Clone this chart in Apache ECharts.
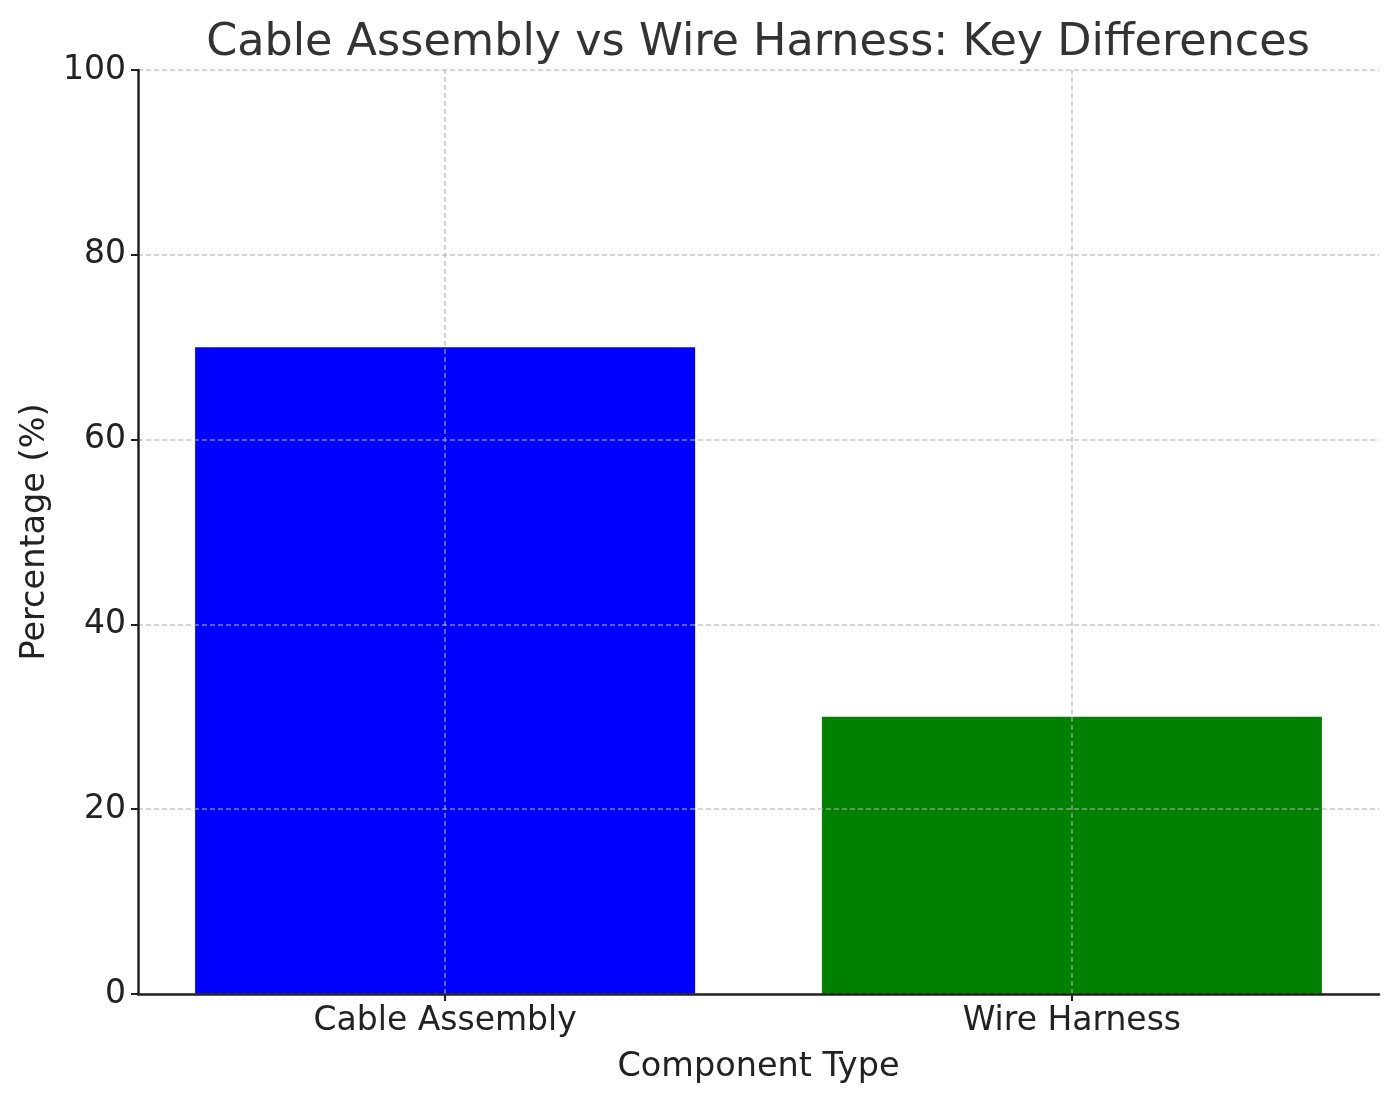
<!DOCTYPE html>
<html>
<head>
<meta charset="utf-8">
<script src="https://cdn.jsdelivr.net/npm/echarts@6/dist/echarts.min.js"></script>
<style>
  html, body { margin: 0; padding: 0; background: #fff; }
  #chart { width: 1397px; height: 1101px; }
</style>
</head>
<body>
<div id="chart"></div>
<script>
// 数据
const categories = ['Cable Assembly', 'Wire Harness']
const percentages = [70, 30]
const barColors = ['#0000ff', '#008000']
const yTicks = [0, 20, 40, 60, 80, 100]

const FONT = 'DejaVu Sans'
const gridColor = 'rgba(176,176,176,0.7)'
const ink = '#222'

const positions = categories.map((c, i) => i)

const option = {
    animation: false,
    backgroundColor: '#fff',
    title: {
        text: 'Cable Assembly vs Wire Harness: Key Differences',
        left: 753,
        textAlign: 'center',
        top: 16,
        textStyle: { fontFamily: FONT, fontSize: 44.5, fontWeight: 'normal', color: '#333' }
    },
    grid: { left: 138, right: 18, top: 70, bottom: 107 },
    xAxis: {
        type: 'value',
        min: -0.49,
        max: 1.49,
        z: 5,
        name: 'Component Type',
        nameLocation: 'middle',
        nameGap: 56,
        nameTextStyle: { fontFamily: FONT, fontSize: 33.5, color: ink },
        axisLine: { show: true, onZero: false, lineStyle: { color: ink, width: 2.5 } },
        axisTick: { show: true, customValues: positions, length: 7, lineStyle: { color: ink, width: 2 } },
        axisLabel: {
            customValues: positions,
            formatter: v => categories[Math.round(v)] || '',
            fontFamily: FONT, fontSize: 33, color: ink, margin: 11
        },
        splitLine: { show: false }
    },
    yAxis: {
        type: 'value',
        min: yTicks[0],
        max: yTicks[yTicks.length - 1],
        interval: 20,
        z: 5,
        name: 'Percentage (%)',
        nameLocation: 'middle',
        nameGap: 86,
        nameTextStyle: { fontFamily: FONT, fontSize: 33.5, color: ink },
        axisLine: { show: true, onZero: false, lineStyle: { color: ink, width: 2.5 } },
        axisTick: { show: true, length: 7, lineStyle: { color: ink, width: 2 } },
        axisLabel: { fontFamily: FONT, fontSize: 33, color: ink, margin: 12 },
        splitLine: { show: true, lineStyle: { color: gridColor, type: [5, 3], width: 1.6 } }
    },
    series: [{
        type: 'bar',
        barWidth: 500,
        data: positions.map((x, i) => ({
            value: [x, percentages[i]],
            itemStyle: { color: barColors[i] }
        })),
        markLine: {
            silent: true,
            symbol: 'none',
            label: { show: false },
            lineStyle: { color: gridColor, type: [5, 3], width: 1.6 },
            data: positions.map(x => ({ xAxis: x }))
        }
    }]
}

const chart = echarts.init(document.getElementById('chart'))
chart.setOption(option)
</script>
</body>
</html>
